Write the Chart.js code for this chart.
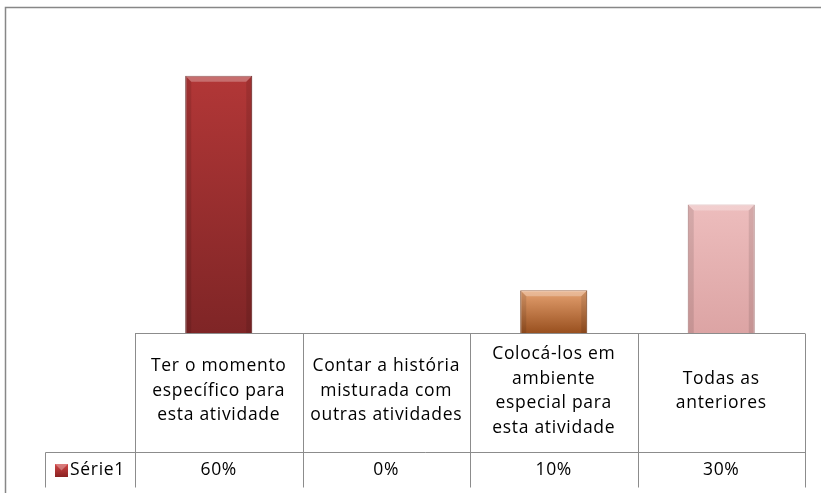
<!DOCTYPE html>
<html><head><meta charset="utf-8">
<script src="https://cdn.jsdelivr.net/npm/chart.js@4/dist/chart.umd.min.js"></script>
<style>html,body{margin:0;padding:0;background:#fff;}canvas{display:block}</style>
</head><body>
<canvas id="c" width="821" height="493"></canvas>
<script>
// ---- data ----
const categories = [
  ["Ter o momento", "específico para", "esta atividade"],
  ["Contar a história", "misturada com", "outras atividades"],
  ["Colocá-los em", "ambiente", "especial para", "esta atividade"],
  ["Todas as", "anteriores"]
];
const seriesName = "Série1";
const values = [0.60, 0.00, 0.10, 0.30];
const yTicks = [0, 0.7];

// ---- styles ----
const topColors = ["#b23737", "#b23737", "#e6a271", "#edbdbd"];
const bottomColors = ["#7f2526", "#7f2526", "#99501f", "#dca4a4"];
const edgeColors = ["#6e2020", "#6e2020", "#8a4a22", "#c99595"];
const FONT = '17.5px "Open Sans", "Liberation Sans", sans-serif';
const LINE = '#8c8c8c';

function pct(v){ return Math.round(v*100) + '%'; }

const tablePlugin = {
  id: 'tablePlugin',
  beforeDraw(chart){
    const c = chart.ctx;
    c.save();
    c.fillStyle = '#fff';
    c.fillRect(0,0,chart.width,chart.height);
    c.strokeStyle = '#878787';
    c.lineWidth = 1.5;
    c.beginPath();
    c.moveTo(5.5, chart.height + 2);
    c.lineTo(5.5, 7.5);
    c.lineTo(chart.width + 2, 7.5);
    c.stroke();
    c.restore();
  },
  afterDatasetsDraw(chart){
    const c = chart.ctx;
    const meta = chart.getDatasetMeta(0);
    c.save();
    meta.data.forEach((bar) => {
      const h = bar.base - bar.y;
      if (h <= 0.5) return;
      const l = bar.x - bar.width/2, r = bar.x + bar.width/2, t = bar.y;
      const b = Math.min(6, h/2);
      c.fillStyle = 'rgba(255,255,255,0.28)';
      c.beginPath();
      c.moveTo(l, t); c.lineTo(r, t); c.lineTo(r-b, t+b); c.lineTo(l+b, t+b); c.closePath();
      c.fill();
      c.fillStyle = 'rgba(0,0,0,0.10)';
      c.beginPath();
      c.moveTo(r, t); c.lineTo(r, bar.base); c.lineTo(r-b, bar.base); c.lineTo(r-b, t+b); c.closePath();
      c.fill();
      c.beginPath();
      c.moveTo(l, t); c.lineTo(l, bar.base); c.lineTo(l+b, bar.base); c.lineTo(l+b, t+b); c.closePath();
      c.fill();
    });
    c.restore();
  },
  afterDraw(chart){
    const c = chart.ctx;
    const xs = chart.scales.x;
    const area = chart.chartArea;
    const n = categories.length;
    const cw = (area.right - area.left) / n;
    const y0 = Math.round(area.bottom) + 0.5;
    const ySplit = y0 + 119;
    const yEnd = ySplit + 35;
    const legendLeft = 45.5;
    c.save();
    c.strokeStyle = LINE;
    c.lineWidth = 1;
    c.beginPath();
    c.moveTo(area.left, y0); c.lineTo(area.right, y0);
    c.moveTo(legendLeft, ySplit); c.lineTo(area.right, ySplit);
    c.moveTo(legendLeft, ySplit); c.lineTo(legendLeft, yEnd);
    for (let i = 0; i <= n; i++){
      const x = Math.round(xs.getPixelForValue(0) - cw/2 + i*cw) + 0.5;
      c.moveTo(x, y0); c.lineTo(x, yEnd);
    }
    c.stroke();
    c.fillStyle = '#000';
    c.font = FONT;
    c.letterSpacing = '0.7px';
    c.textAlign = 'center';
    c.textBaseline = 'middle';
    const lh = 24.5;
    const midH = (y0 + ySplit)/2 - 2;
    categories.forEach((lines, i) => {
      const x = xs.getPixelForValue(i);
      const start = midH - (lines.length - 1) * lh / 2;
      lines.forEach((ln, k) => c.fillText(ln, x, start + k*lh));
      c.fillText(pct(values[i]), x, (ySplit + yEnd)/2);
    });
    const my = (ySplit + yEnd)/2;
    const g = c.createLinearGradient(0, my-6, 0, my+7);
    g.addColorStop(0, '#d04545'); g.addColorStop(1, '#8a2222');
    c.fillStyle = g;
    c.fillRect(55, my-6, 13, 13);
    c.fillStyle = 'rgba(255,255,255,0.3)';
    c.beginPath(); c.moveTo(55,my-6); c.lineTo(68,my-6); c.lineTo(61.5,my+0.5); c.closePath(); c.fill();
    c.fillStyle = '#000';
    c.textAlign = 'left';
    c.fillText(seriesName, 70, my);
    c.restore();
  }
};

new Chart(document.getElementById('c'), {
  type: 'bar',
  data: {
    labels: categories,
    datasets: [{
      label: seriesName,
      data: values,
      backgroundColor: (ctx) => {
        const chart = ctx.chart;
        const i = ctx.dataIndex;
        if (!chart.chartArea || !chart.scales.y) return topColors[i];
        const ys = chart.scales.y;
        const t = ys.getPixelForValue(values[i]);
        const b = ys.getPixelForValue(0);
        if (b - t < 1) return topColors[i];
        const g = chart.ctx.createLinearGradient(0, t, 0, b);
        g.addColorStop(0, topColors[i]);
        g.addColorStop(1, bottomColors[i]);
        return g;
      },
      borderColor: (ctx) => edgeColors[ctx.dataIndex],
      borderWidth: 1,
      barPercentage: 0.4,
      categoryPercentage: 1.0
    }]
  },
  options: {
    responsive: false,
    animation: false,
    devicePixelRatio: 1,
    layout: { padding: { left: 135, right: 16, top: 33, bottom: 160 } },
    plugins: { legend: { display: false }, tooltip: { enabled: false } },
    scales: {
      x: { display: false },
      y: { display: false, min: yTicks[0], max: yTicks[1] }
    }
  },
  plugins: [tablePlugin]
});
</script>
</body></html>
